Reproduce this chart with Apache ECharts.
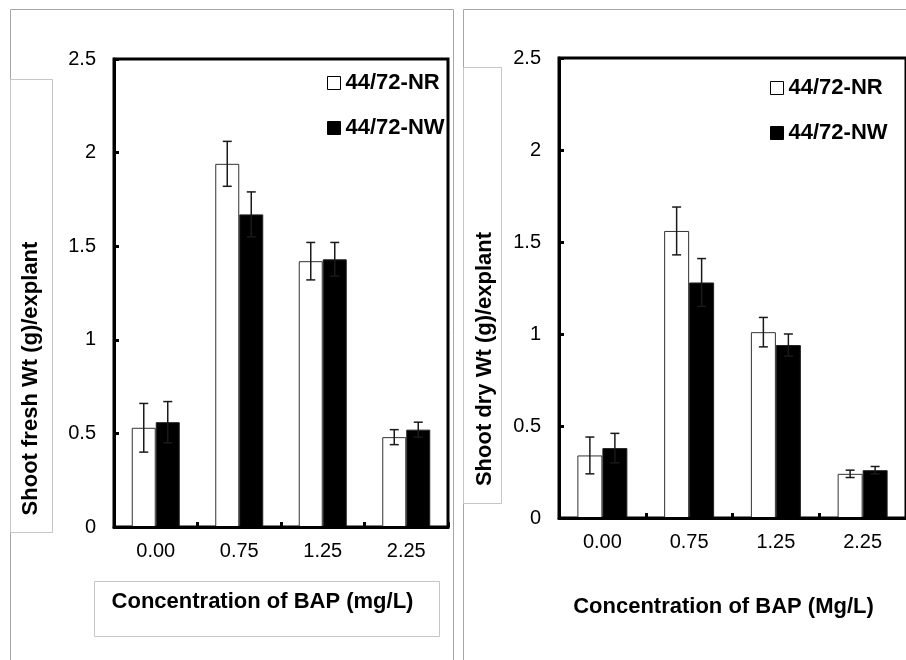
<!DOCTYPE html>
<html>
<head>
<meta charset="utf-8">
<script src="https://cdn.jsdelivr.net/npm/echarts@6/dist/echarts.min.js"></script>
<style>
html,body{margin:0;padding:0;background:#fff;}
#chart{width:906px;height:660px;}
</style>
</head>
<body>
<div id="chart"></div>
<script>
// ---- data ----
var categories = ['0.00', '0.75', '1.25', '2.25'];
var freshNR = [0.53, 1.94, 1.42, 0.48];
var freshNRErr = [0.13, 0.12, 0.10, 0.04];
var freshNW = [0.56, 1.67, 1.43, 0.52];
var freshNWErr = [0.11, 0.12, 0.09, 0.04];
var dryNR = [0.34, 1.56, 1.01, 0.24];
var dryNRErr = [0.10, 0.13, 0.08, 0.02];
var dryNW = [0.38, 1.28, 0.94, 0.26];
var dryNWErr = [0.08, 0.13, 0.06, 0.02];
var yMin = 0, yMax = 2.5, yStep = 0.5;
var seriesNames = ['44/72-NR', '44/72-NW'];
var yTitles = ['Shoot fresh Wt (g)/explant', 'Shoot dry Wt (g)/explant'];
var xTitles = ['Concentration of BAP (mg/L)', 'Concentration of BAP (Mg/L)'];

var FONT = 'Arial, "Liberation Sans", sans-serif';
var chart = echarts.init(document.getElementById('chart'));

function errData(vals, errs) {
  return vals.map(function (v, i) { return [i, v, errs[i]]; });
}
function errSeries(name, gridIdx, vals, errs, side, barW) {
  return {
    type: 'custom', name: name, xAxisIndex: gridIdx, yAxisIndex: gridIdx, z: 5,
    data: errData(vals, errs),
    renderItem: function (params, api) {
      var i = api.value(0), v = api.value(1), e = api.value(2);
      var c = api.coord([i, v]);
      var x = c[0] + side * barW / 2;
      var top = api.coord([i, v + e])[1];
      var bot = api.coord([i, v - e])[1];
      var hw = 4.5;
      var st = { stroke: '#1a1a1a', lineWidth: 1.5 };
      return { type: 'group', children: [
        { type: 'line', shape: { x1: x, y1: top, x2: x, y2: bot }, style: st },
        { type: 'line', shape: { x1: x - hw, y1: top, x2: x + hw, y2: top }, style: st },
        { type: 'line', shape: { x1: x - hw, y1: bot, x2: x + hw, y2: bot }, style: st }
      ]};
    }
  };
}
function xAxisCfg(gridIdx) {
  return {
    type: 'category', gridIndex: gridIdx, data: categories, z: 6,
    axisLine: { show: true, lineStyle: { color: '#000', width: 3 } },
    axisTick: { show: true, inside: true, length: 5, lineStyle: { color: '#000', width: 3 } },
    axisLabel: { color: '#000', fontFamily: FONT, fontSize: 20, margin: 14 },
    splitLine: { show: false }
  };
}
function yAxisCfg(gridIdx) {
  return {
    type: 'value', gridIndex: gridIdx, min: yMin, max: yMax, interval: yStep, z: 6,
    axisLine: { show: true, lineStyle: { color: '#000', width: 3 } },
    axisTick: { show: true, inside: true, length: 5, lineStyle: { color: '#000', width: 3 } },
    axisLabel: { color: '#000', fontFamily: FONT, fontSize: 20, margin: 18 },
    splitLine: { show: false }
  };
}
function barSeries(name, gridIdx, vals, color, barW) {
  return {
    type: 'bar', name: name, xAxisIndex: gridIdx, yAxisIndex: gridIdx,
    data: vals, barWidth: barW, barGap: '0%',
    itemStyle: { color: color, borderColor: color === '#fff' ? '#333' : '#222', borderWidth: 1 }
  };
}
function legendCfg(left, top) {
  return {
    left: left, top: top, orient: 'vertical', itemWidth: 13, itemHeight: 13, itemGap: 23,
    icon: 'rect', selectedMode: false,
    textStyle: { color: '#000', fontFamily: FONT, fontSize: 22, fontWeight: 'bold' },
    data: [
      { name: seriesNames[0], itemStyle: { color: '#fff', borderColor: '#000', borderWidth: 1 } },
      { name: seriesNames[1], itemStyle: { color: '#000', borderColor: '#000', borderWidth: 1 } }
    ]
  };
}
var grayFrame = '#a6a6a6', grayBox = '#c6c6c6';
var option = {
  animation: false,
  backgroundColor: '#fff',
  grid: [
    { left: 114, top: 59, width: 334, height: 468, show: true, borderColor: '#000', borderWidth: 3, backgroundColor: 'transparent' },
    { left: 559, top: 58, width: 352, height: 460, show: true, borderColor: '#000', borderWidth: 3, backgroundColor: 'transparent' }
  ],
  legend: [legendCfg(322, 67), legendCfg(765, 72)],
  xAxis: [xAxisCfg(0), xAxisCfg(1)],
  yAxis: [yAxisCfg(0), yAxisCfg(1)],
  series: [
    barSeries(seriesNames[0], 0, freshNR, '#fff', 24),
    barSeries(seriesNames[1], 0, freshNW, '#000', 24),
    errSeries('errFreshNR', 0, freshNR, freshNRErr, -1, 24),
    errSeries('errFreshNW', 0, freshNW, freshNWErr, 1, 24),
    barSeries(seriesNames[0], 1, dryNR, '#fff', 25),
    barSeries(seriesNames[1], 1, dryNW, '#000', 25),
    errSeries('errDryNR', 1, dryNR, dryNRErr, -1, 25),
    errSeries('errDryNW', 1, dryNW, dryNWErr, 1, 25)
  ],
  graphic: [
    { type: 'rect', z: -10, silent: true, shape: { x: 10.5, y: 9.5, width: 443, height: 700 }, style: { fill: '#fff', stroke: grayFrame, lineWidth: 1 } },
    { type: 'rect', z: -10, silent: true, shape: { x: 463.5, y: 9.5, width: 500, height: 700 }, style: { fill: '#fff', stroke: grayFrame, lineWidth: 1 } },
    { type: 'rect', z: -5, silent: true, shape: { x: 10.5, y: 79.5, width: 42, height: 453 }, style: { fill: '#fff', stroke: grayBox, lineWidth: 1 } },
    { type: 'rect', z: -5, silent: true, shape: { x: 463.5, y: 67.5, width: 38, height: 436 }, style: { fill: '#fff', stroke: grayBox, lineWidth: 1 } },
    { type: 'rect', z: -5, silent: true, shape: { x: 94.5, y: 581.5, width: 345, height: 55 }, style: { fill: '#fff', stroke: grayBox, lineWidth: 1 } },
    { type: 'text', z: 10, silent: true, x: 31, y: 378.5, rotation: Math.PI / 2,
      style: { text: yTitles[0], fontFamily: FONT, fontSize: 22, fontWeight: 'bold', fill: '#000', align: 'center', verticalAlign: 'middle' } },
    { type: 'text', z: 10, silent: true, x: 484.5, y: 359, rotation: Math.PI / 2,
      style: { text: yTitles[1], fontFamily: FONT, fontSize: 22, fontWeight: 'bold', fill: '#000', align: 'center', verticalAlign: 'middle' } },
    { type: 'text', z: 10, silent: true, x: 262.5, y: 602,
      style: { text: xTitles[0], fontFamily: FONT, fontSize: 22, fontWeight: 'bold', fill: '#000', align: 'center', verticalAlign: 'middle' } },
    { type: 'text', z: 10, silent: true, x: 723.5, y: 607,
      style: { text: xTitles[1], fontFamily: FONT, fontSize: 22, fontWeight: 'bold', fill: '#000', align: 'center', verticalAlign: 'middle' } }
  ]
};
chart.setOption(option);
</script>
</body>
</html>
